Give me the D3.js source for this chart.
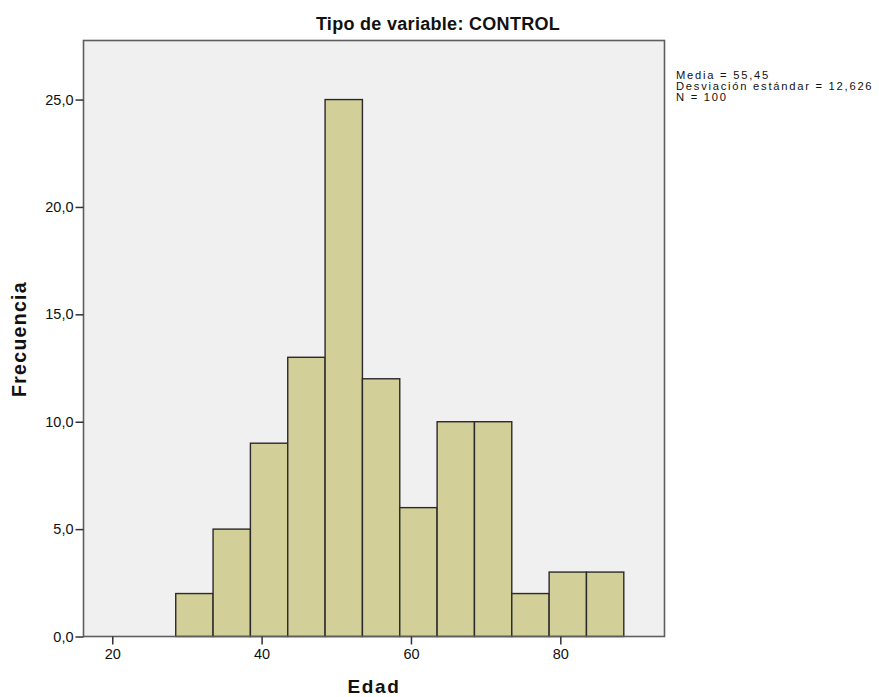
<!DOCTYPE html>
<html>
<head>
<meta charset="utf-8">
<script src="https://cdn.jsdelivr.net/npm/d3@7"></script>
<style>
  body { margin: 0; background: #fff; }
  svg text { font-family: "Liberation Sans", Arial, sans-serif; fill: #111; }
</style>
</head>
<body>
<svg id="SvgContainer"></svg>
<script>
// histogram bins (Edad), width 5
var binStarts = [28.5, 33.5, 38.5, 43.5, 48.5, 53.5, 58.5, 63.5, 68.5, 73.5, 78.5, 83.5];
var binWidth = 5;
var counts = [2, 5, 9, 13, 25, 12, 6, 10, 10, 2, 3, 3];
var xTicks = [20, 40, 60, 80];
var yTicks = [0, 5, 10, 15, 20, 25];
var statsLines = ["Media = 55,45", "Desviación estándar = 12,626", "N = 100"];

function DrawHistogram() {
    var width = 879;
    var height = 697;
    var plotLeft = 83.5, plotRight = 664.5, plotTop = 40.5, plotBottom = 636.5;

    var svg = d3.select("svg")
        .attr("width", width)
        .attr("height", height);

    var x = d3.scaleLinear().domain([16.15, 93.95]).range([plotLeft, plotRight]);
    var y = d3.scaleLinear().domain([0, 27.75]).range([plotBottom, plotTop]);

    // plot background
    svg.append("rect")
        .attr("x", plotLeft)
        .attr("y", plotTop)
        .attr("width", plotRight - plotLeft)
        .attr("height", plotBottom - plotTop)
        .attr("fill", "#f0f0f0");

    // bars
    svg.selectAll(".bar")
        .data(counts)
        .enter()
        .append("rect")
        .attr("class", "bar")
        .attr("x", function (d, i) { return x(binStarts[i]); })
        .attr("y", function (d) { return y(d); })
        .attr("width", function (d, i) { return x(binStarts[i] + binWidth) - x(binStarts[i]); })
        .attr("height", function (d) { return y(0) - y(d); })
        .attr("fill", "#d3cf98")
        .attr("stroke", "#2a2a2a")
        .attr("stroke-width", 1.4);

    // frame
    svg.append("rect")
        .attr("x", plotLeft)
        .attr("y", plotTop)
        .attr("width", plotRight - plotLeft)
        .attr("height", plotBottom - plotTop)
        .attr("fill", "none")
        .attr("stroke", "#5e5e5e")
        .attr("stroke-width", 1.6);

    var fmt = function (d) { return d3.format(".1f")(d).replace(".", ","); };

    var yAxis = svg.append("g")
        .attr("transform", "translate(" + plotLeft + ",0)")
        .call(d3.axisLeft(y).tickValues(yTicks).tickSize(8).tickPadding(2).tickFormat(fmt));
    yAxis.select(".domain").remove();
    yAxis.selectAll("line").attr("stroke", "#333").attr("stroke-width", 1.5);
    yAxis.selectAll("text").attr("font-size", 14.5).attr("fill", "#222")
        .style("font-family", "'Liberation Sans', Arial, sans-serif");

    var xAxis = svg.append("g")
        .attr("transform", "translate(0," + plotBottom + ")")
        .call(d3.axisBottom(x).tickValues(xTicks).tickSize(8).tickPadding(4).tickFormat(d3.format("d")));
    xAxis.select(".domain").remove();
    xAxis.selectAll("line").attr("stroke", "#333").attr("stroke-width", 1.5);
    xAxis.selectAll("text").attr("font-size", 14.5).attr("fill", "#222")
        .style("font-family", "'Liberation Sans', Arial, sans-serif");

    // titles
    svg.append("text")
        .attr("x", 438)
        .attr("y", 30)
        .attr("text-anchor", "middle")
        .attr("font-size", 18)
        .attr("font-weight", "bold")
        .attr("letter-spacing", 0.3)
        .text("Tipo de variable: CONTROL");

    svg.append("text")
        .attr("x", 374)
        .attr("y", 693)
        .attr("text-anchor", "middle")
        .attr("font-size", 19)
        .attr("font-weight", "bold")
        .attr("letter-spacing", 1.6)
        .text("Edad");

    svg.append("text")
        .attr("transform", "translate(26,339) rotate(-90)")
        .attr("text-anchor", "middle")
        .attr("font-size", 19.5)
        .attr("font-weight", "bold")
        .attr("letter-spacing", 1.3)
        .text("Frecuencia");

    // stats box
    svg.selectAll(".stat")
        .data(statsLines)
        .enter()
        .append("text")
        .attr("class", "stat")
        .attr("x", 676)
        .attr("y", function (d, i) { return 79 + i * 11.2; })
        .attr("font-size", 11.2)
        .attr("letter-spacing", 1.75)
        .text(function (d) { return d; });
}

DrawHistogram();
</script>
</body>
</html>
